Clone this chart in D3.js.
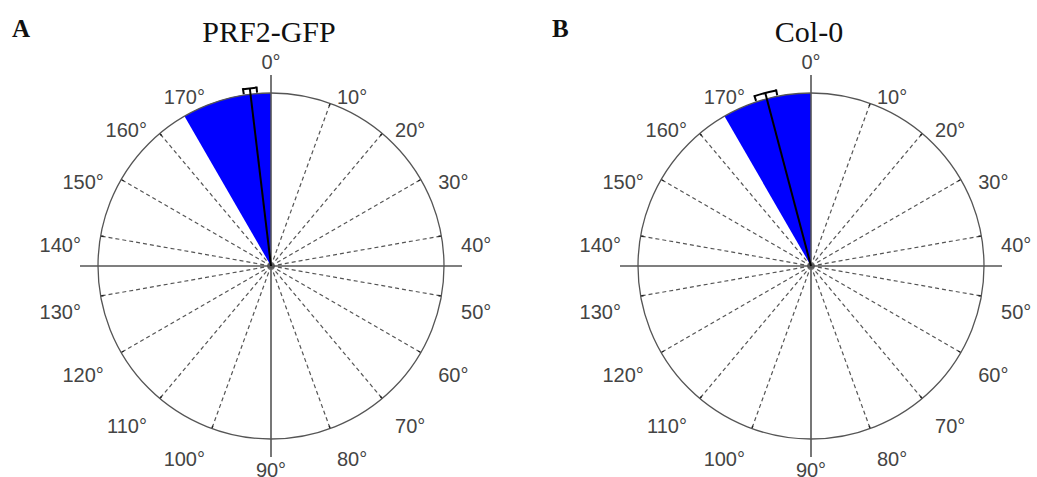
<!DOCTYPE html>
<html><head><meta charset="utf-8">
<script src="https://cdn.jsdelivr.net/npm/d3@7"></script>
<style>body{margin:0;background:#fff}svg{display:block}</style>
</head><body>
<svg id="chart" width="1037" height="477"></svg>
<script>
// ---- data ----
const panelLetters = ["A", "B"];
const panelTitles = ["PRF2-GFP", "Col-0"];
const tickLabels = [0,10,20,30,40,50,60,70,80,90,100,110,120,130,140,150,160,170];
const binStarts = [0,15,30,45,60,75,90,105,120,135,150,165];   // 15° bins
const countsA = [0,0,0,0,0,0,0,0,0,0,0,24];
const countsB = [0,0,0,0,0,0,0,0,0,0,0,24];
const meanAngles = [176.6, 172.6];   // mean direction (deg)
const ciHalf = [1.1, 1.8];           // 95% CI half width (deg)
const binWidth = 15;

const svg = d3.select("#chart");
const R = 173;
const centers = [[271, 266], [811, 266]];
const allCounts = [countsA, countsB];

const ang = d3.scaleLinear().domain([0, 180]).range([0, 2 * Math.PI]);

function panel(i) {
  const [cx, cy] = centers[i];
  const counts = allCounts[i];
  const rScale = d3.scaleLinear().domain([0, d3.max(counts)]).range([0, R]);
  const g = svg.append("g").attr("transform", `translate(${cx},${cy})`);

  // dashed spokes every 10°
  tickLabels.forEach(d => {
    if (d === 0 || d === 90) return;
    const a = ang(d);
    g.append("line")
      .attr("x1", 0).attr("y1", 0)
      .attr("x2", R * Math.sin(a)).attr("y2", -R * Math.cos(a))
      .attr("stroke", "#555").attr("stroke-width", 1.2)
      .attr("stroke-dasharray", "4,3");
    g.append("line")
      .attr("x1", (R - 3) * Math.sin(a)).attr("y1", -(R - 3) * Math.cos(a))
      .attr("x2", R * Math.sin(a)).attr("y2", -R * Math.cos(a))
      .attr("stroke", "#222").attr("stroke-width", 1.4);
  });

  // histogram wedges
  const arc = d3.arc().innerRadius(0);
  g.selectAll("path.bin").data(binStarts.map((b, k) => ({b, c: counts[k]})).filter(d => d.c > 0))
    .enter().append("path").attr("class", "bin")
    .attr("d", d => arc({startAngle: ang(d.b), endAngle: ang(d.b + binWidth), outerRadius: rScale(d.c)}))
    .attr("fill", "#0000ff");

  // outer circle
  g.append("circle").attr("r", R).attr("fill", "none")
    .attr("stroke", "#555").attr("stroke-width", 1.3);

  // solid axes
  const ext = R + 18;
  [[0, -ext, 0, ext], [-ext, 0, ext, 0]].forEach(l => {
    g.append("line").attr("x1", l[0]).attr("y1", l[1]).attr("x2", l[2]).attr("y2", l[3])
      .attr("stroke", "#555").attr("stroke-width", 1.6);
  });

  // mean vector and CI bracket
  const m = meanAngles[i], ci = ciHalf[i];
  const rb = R + 6;
  const am = ang(m);
  g.append("line").attr("x1", 0).attr("y1", 0)
    .attr("x2", rb * Math.sin(am)).attr("y2", -rb * Math.cos(am))
    .attr("stroke", "#000").attr("stroke-width", 2);
  const a1 = ang(m - ci), a2 = ang(m + ci);
  g.append("path")
    .attr("d", d3.arc()({innerRadius: rb - 1, outerRadius: rb + 1, startAngle: a1, endAngle: a2}))
    .attr("fill", "#000");
  [a1, a2].forEach(a => {
    g.append("line")
      .attr("x1", (rb + 1) * Math.sin(a)).attr("y1", -(rb + 1) * Math.cos(a))
      .attr("x2", (rb - 5) * Math.sin(a)).attr("y2", -(rb - 5) * Math.cos(a))
      .attr("stroke", "#000").attr("stroke-width", 2);
  });

  // tick labels
  const RL = 193;
  tickLabels.forEach(d => {
    const a = ang(d);
    const s = Math.sin(a), c = Math.cos(a);
    let x = RL * s, y = -RL * c + 12;
    let anchor = Math.abs(s) < 0.01 ? "middle" : (s > 0 ? "start" : "end");
    if (d === 0) y = -204;
    if (d === 90) y = 204;
    g.append("text").attr("x", x).attr("y", y)
      .attr("text-anchor", anchor).attr("dominant-baseline", "central")
      .attr("font-family", "'Liberation Sans', Arial, sans-serif")
      .attr("font-size", 20).attr("fill", "#444")
      .text(d + "°");
  });

  // title
  svg.append("text").attr("x", cx - 2).attr("y", 42)
    .attr("text-anchor", "middle")
    .attr("font-family", "'Liberation Serif', 'Times New Roman', serif")
    .attr("font-size", 30).attr("fill", "#111")
    .text(panelTitles[i]);
  svg.append("text").attr("x", cx - 259).attr("y", 37)
    .attr("font-family", "'Liberation Serif', 'Times New Roman', serif")
    .attr("font-size", 25).attr("font-weight", "bold").attr("fill", "#111")
    .text(panelLetters[i]);
}

panel(0);
panel(1);
</script>
</body></html>
